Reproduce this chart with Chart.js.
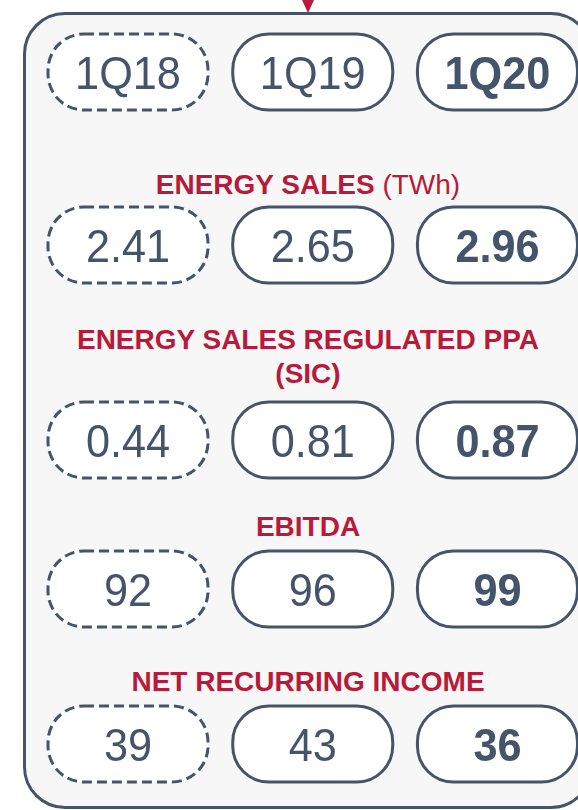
<!DOCTYPE html>
<html>
<head>
<meta charset="utf-8">
<script src="https://cdn.jsdelivr.net/npm/chart.js@4.4.1/dist/chart.umd.min.js"></script>
<style>
  html, body { margin: 0; padding: 0; background: #ffffff; }
  body { width: 578px; height: 810px; position: relative; overflow: hidden; font-family: "Liberation Sans", Arial, sans-serif; }
  #panel {
    position: absolute; left: 23px; top: 12px; width: 570px; height: 797px;
    box-sizing: border-box; border: 3px solid #44546a; border-radius: 42px; background: #f7f7f7;
  }
  #arrow {
    position: absolute; left: 302px; top: 0; width: 0; height: 0;
    border-left: 6px solid transparent; border-right: 6px solid transparent; border-top: 13px solid #b71a3b;
  }
  .title {
    position: absolute; left: 0; width: 616px; text-align: center;
    color: #b71a3b; font-weight: 700; font-size: 28px; line-height: 34px;
  }
  .title span { font-weight: 400; }
  canvas.row { position: absolute; left: 0; }
</style>
</head>
<body>
<div id="panel"></div>
<div id="arrow"></div>
<div class="title" style="top:168px">ENERGY SALES <span>(TWh)</span></div>
<div class="title" style="top:323px">ENERGY SALES REGULATED PPA<br>(SIC)</div>
<div class="title" style="top:510px">EBITDA</div>
<div class="title" style="top:665px">NET RECURRING INCOME</div>

<canvas class="row" id="row0" width="578" height="90" style="top:27px"></canvas>
<canvas class="row" id="row1" width="578" height="90" style="top:200px"></canvas>
<canvas class="row" id="row2" width="578" height="90" style="top:395px"></canvas>
<canvas class="row" id="row3" width="578" height="90" style="top:544px"></canvas>
<canvas class="row" id="row4" width="578" height="90" style="top:699px"></canvas>

<script>
const periods = ['1Q18', '1Q19', '1Q20'];
const energySales = [2.41, 2.65, 2.96];
const regulatedPpa = [0.44, 0.81, 0.87];
const ebitda = [92, 96, 99];
const netRecurringIncome = [39, 43, 36];

const slate = '#44546a';

// draws a rounded "pill" with the value inside at every point of the row
const pillPlugin = {
  id: 'pills',
  afterDatasetsDraw(chart) {
    const ctx = chart.ctx;
    const meta = chart.getDatasetMeta(0);
    const labels = chart.data.labels;
    meta.data.forEach((pt, i) => {
      const w = 160, h = 76, r = 36;
      const x = pt.x - w / 2, y = pt.y - h / 2;
      ctx.save();
      ctx.beginPath();
      ctx.roundRect(x, y, w, h, r);
      ctx.fillStyle = '#ffffff';
      ctx.fill();
      ctx.lineWidth = 3;
      ctx.strokeStyle = slate;
      ctx.setLineDash(i === 0 ? [10, 5] : []);
      ctx.stroke();
      ctx.setLineDash([]);

      ctx.fillStyle = slate;
      ctx.font = (i === labels.length - 1 ? 'bold ' : '') + '46px "Liberation Sans", Arial, sans-serif';
      ctx.textAlign = 'center';
      ctx.textBaseline = 'alphabetic';
      ctx.translate(pt.x, pt.y + 16.5);
      ctx.scale(0.94, 1);
      ctx.fillText(labels[i], 0, 0);
      ctx.restore();
    });
  }
};

function makeRow(id, values, fmt) {
  new Chart(document.getElementById(id), {
    type: 'scatter',
    data: {
      labels: values.map(fmt),
      datasets: [{
        data: values.map((v, i) => ({ x: i, y: 0 })),
        pointRadius: 0
      }]
    },
    options: {
      responsive: false,
      animation: false,
      events: [],
      layout: { padding: 0 },
      plugins: { legend: { display: false }, tooltip: { enabled: false } },
      scales: {
        x: { type: 'linear', display: false, min: -0.693, max: 2.436 },
        y: { type: 'linear', display: false, min: -1, max: 1 }
      }
    },
    plugins: [pillPlugin]
  });
}

makeRow('row0', periods, v => v);
makeRow('row1', energySales, v => v.toFixed(2));
makeRow('row2', regulatedPpa, v => v.toFixed(2));
makeRow('row3', ebitda, v => String(v));
makeRow('row4', netRecurringIncome, v => String(v));
</script>
</body>
</html>
